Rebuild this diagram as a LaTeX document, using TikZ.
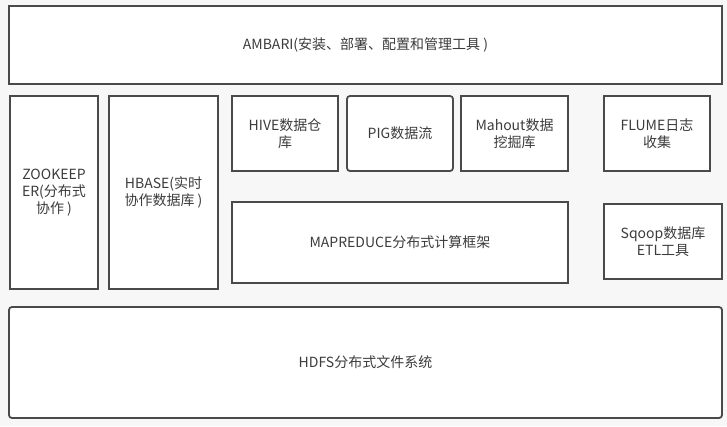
\documentclass[tikz,border=0pt]{standalone}
\usepackage{fontspec}
\setmainfont{Noto Sans CJK SC}
\usepackage{tikz}
\usetikzlibrary{positioning}

\definecolor{pagebg}{HTML}{F7F7F7}
\definecolor{edgegray}{HTML}{4A4A4A}
\definecolor{textgray}{HTML}{3C3C3C}

\begin{document}
\begin{tikzpicture}[
        x=1pt, y=-1pt,
        layer/.style={draw=edgegray, fill=white, line width=1.8pt, rectangle, outer sep=0pt,
            inner sep=2pt, align=center, text=textgray, font=\fontsize{14}{17}\selectfont},
        soft/.style={rounded corners=3pt}
    ]
        \fill[pagebg] (0,0) rectangle (727,426);
        \useasboundingbox (0,0) rectangle (727,426);

        % top and bottom bars
        \node[layer, minimum width=713pt, minimum height=78pt, anchor=north west] (ambari) at (9,6) {AMBARI(安装、部署、配置和管理工具 )};
        \node[layer, soft, minimum width=713pt, minimum height=111pt, anchor=north west] (hdfs) at (9,307) {HDFS分布式文件系统};

        % middle row
        \node[layer, minimum width=88pt, minimum height=193pt, anchor=north west] (zookeeper) at (10,96) {ZOOKEEP\\ER(分布式\\协作 )};
        \node[layer, minimum width=109pt, minimum height=193pt, right=11pt of zookeeper.north east, anchor=north west] (hbase) {HBASE(实时\\协作数据库 )};
        \node[layer, minimum width=106pt, minimum height=75pt, right=14pt of hbase.north east, anchor=north west] (hive) {HIVE数据仓\\库};
        \node[layer, soft, minimum width=106pt, minimum height=75pt, right=9pt of hive.north east, anchor=north west] (pig) {PIG数据流};
        \node[layer, minimum width=107pt, minimum height=75pt, right=8pt of pig.north east, anchor=north west] (mahout) {Mahout数据\\挖掘库};
        \node[layer, minimum width=106pt, minimum height=75pt, right=36pt of mahout.north east, anchor=north west] (flume) {FLUME日志\\收集};
        \node[layer, minimum width=336pt, minimum height=81pt, below=31pt of hive.south west, anchor=north west] (mapreduce) {MAPREDUCE分布式计算框架};
        \node[layer, minimum width=118pt, minimum height=75pt, below=33pt of flume.south west, anchor=north west] (sqoop) {Sqoop数据库\\ETL工具};
    \end{tikzpicture}
\end{document}
